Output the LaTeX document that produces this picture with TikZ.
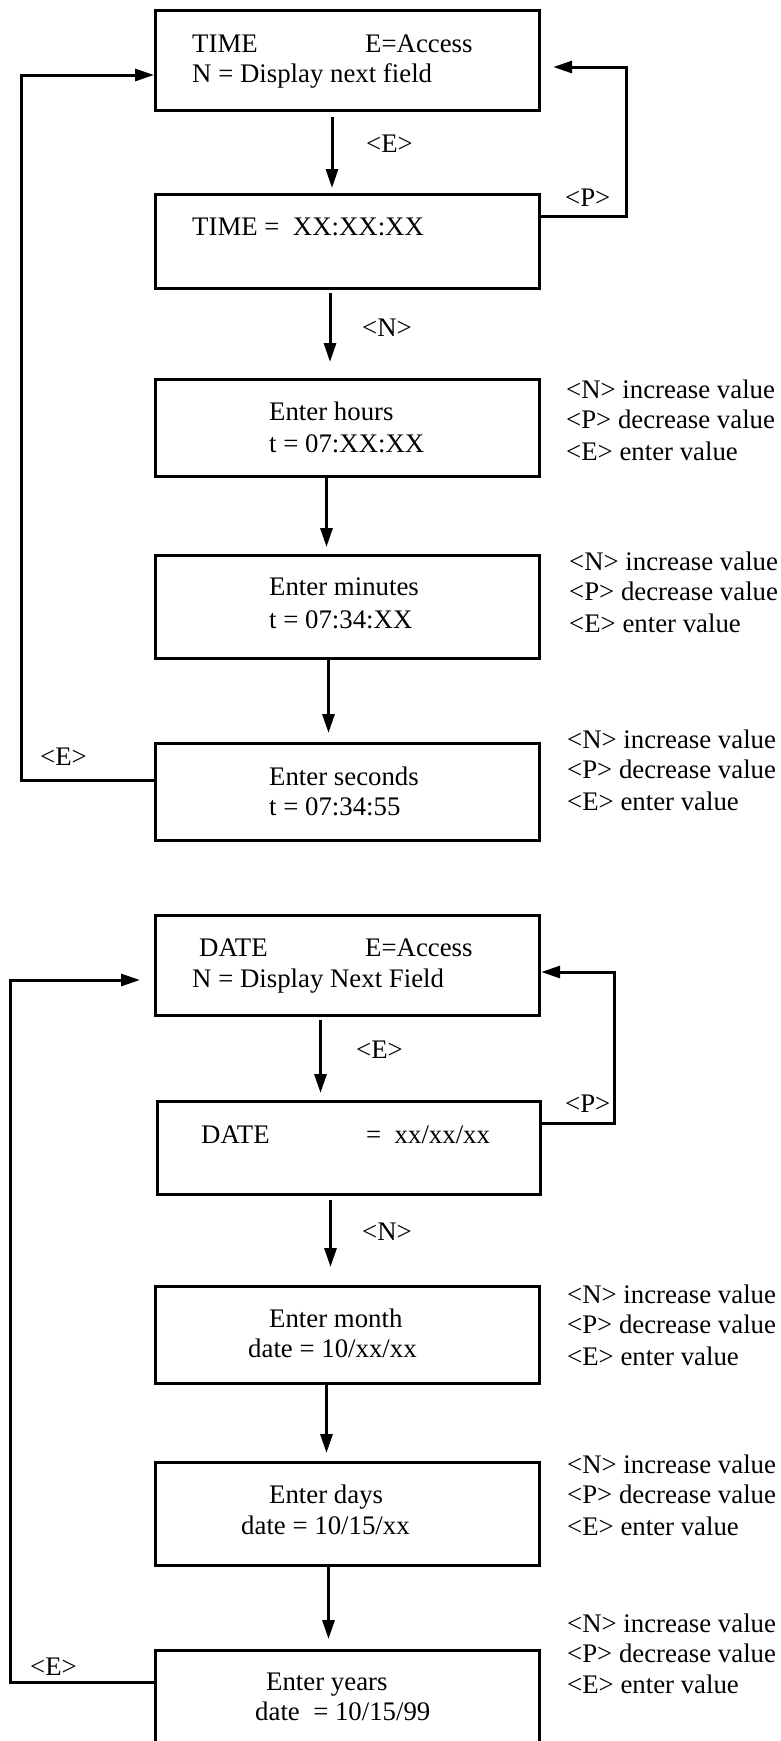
\documentclass[tikz,border=0pt]{standalone}
\usepackage{fontspec}
\setmainfont{Liberation Serif}
\usetikzlibrary{arrows.meta}
\begin{document}
\begin{tikzpicture}[x=1pt,y=-1pt,
  box/.style={draw, line width=3.2pt, inner sep=0pt, anchor=north west, minimum width=384pt},
  conn/.style={line width=3pt, -{Triangle[length=19pt,width=12pt]}},
  txt/.style={anchor=base west, inner sep=0pt, font=\fontsize{26.8pt}{32pt}\selectfont}]
\clip (0,0) rectangle (780,1741);
\fill[white] (0,0) rectangle (780,1741);
% ---------------- TIME ----------------
\node[box, minimum height=100pt] (b1) at (154,9) {};
\node[box, minimum height=94pt]  (b2) at (154,193) {};
\node[box, minimum height=97pt]  (b3) at (154,378) {};
\node[box, minimum height=103pt] (b4) at (154,554) {};
\node[box, minimum height=97pt]  (b5) at (154,742) {};

\node[txt] (t1a) at (192,52) {TIME};
\node[txt] (t1b) at (365,52) {E=Access};
\node[txt] (t1c) at (192,82) {N = Display next field};
\node[txt] (t2)  at (192,235) {TIME = \ XX:XX:XX};
\node[txt] (t3a) at (269,420) {Enter hours};
\node[txt] (t3b) at (269,452) {t = 07:XX:XX};
\node[txt] (t4a) at (269,595) {Enter minutes};
\node[txt] (t4b) at (269,628) {t = 07:34:XX};
\node[txt] (t5a) at (269,785) {Enter seconds};
\node[txt] (t5b) at (269,815) {t = 07:34:55};

\node[txt] (s3a) at (566,398) {<N> increase value};
\node[txt] (s3b) at (566,428) {<P> decrease value};
\node[txt] (s3c) at (566,460) {<E> enter value};
\node[txt] (s4a) at (569,570) {<N> increase value};
\node[txt] (s4b) at (569,600) {<P> decrease value};
\node[txt] (s4c) at (569,632) {<E> enter value};
\node[txt] (s5a) at (567,748) {<N> increase value};
\node[txt] (s5b) at (567,778) {<P> decrease value};
\node[txt] (s5c) at (567,810) {<E> enter value};

\node[txt] (lE1) at (366,152) {<E>};
\node[txt] (lP1) at (565,206) {<P>};
\node[txt] (lN1) at (362,336) {<N>};
\node[txt] (lR1) at (40,765) {<E>};

\coordinate (a1) at (332,0);
\coordinate (a2) at (330,0);
\coordinate (a3) at (326.5,0);
\coordinate (a4) at (328.5,0);
\draw[conn, shorten <=5pt, shorten >=5pt] (b1.south -| a1) -- (b2.north -| a1);
\draw[conn, shorten <=3pt, shorten >=16pt] (b2.south -| a2) -- (b3.north -| a2);
\draw[conn, shorten >=7pt] (b3.south -| a3) -- (b4.north -| a3);
\draw[conn, shorten >=9pt] (b4.south -| a4) -- (b5.north -| a4);

\coordinate (cL1) at (21,780);
\coordinate (cL2) at (21,75);
\draw[conn] (b5.west |- cL1) -- (cL1) -- (cL2) -- (b1.west |- cL2);
\coordinate (cR1) at (626,216);
\coordinate (cR2) at (626,67);
\draw[conn, shorten >=12pt] (b2.east |- cR1) -- (cR1) -- (cR2) -- (b1.east |- cR2);

% ---------------- DATE ----------------
\node[box, minimum height=100pt] (b6) at (154,914) {};
\node[box, minimum height=93pt, minimum width=383pt] (b7) at (156,1100) {};
\node[box, minimum height=97pt]  (b8) at (154,1285) {};
\node[box, minimum height=103pt] (b9) at (154,1461) {};
\node[box, minimum height=110pt] (b10) at (154,1649) {};

\node[txt] (t6a) at (199,956) {DATE};
\node[txt] (t6b) at (365,956) {E=Access};
\node[txt] (t6c) at (192,987) {N = Display Next Field};
\node[txt] (t7a) at (201,1143) {DATE};
\node[txt] (t7b) at (366,1143) {= \ xx/xx/xx};
\node[txt] (t8a) at (269,1327) {Enter month};
\node[txt] (t8b) at (248,1357) {date = 10/xx/xx};
\node[txt] (t9a) at (269,1503) {Enter days};
\node[txt] (t9b) at (241,1534) {date = 10/15/xx};
\node[txt] (t10a) at (266,1690) {Enter years};
\node[txt] (t10b) at (255,1720) {date \ = 10/15/99};

\node[txt] (s8a) at (567,1303) {<N> increase value};
\node[txt] (s8b) at (567,1333) {<P> decrease value};
\node[txt] (s8c) at (567,1365) {<E> enter value};
\node[txt] (s9a) at (567,1473) {<N> increase value};
\node[txt] (s9b) at (567,1503) {<P> decrease value};
\node[txt] (s9c) at (567,1535) {<E> enter value};
\node[txt] (s10a) at (567,1632) {<N> increase value};
\node[txt] (s10b) at (567,1662) {<P> decrease value};
\node[txt] (s10c) at (567,1693) {<E> enter value};

\node[txt] (lE2) at (356,1058) {<E>};
\node[txt] (lP2) at (565,1112) {<P>};
\node[txt] (lN2) at (362,1240) {<N>};
\node[txt] (lR2) at (30,1675) {<E>};

\coordinate (a6) at (320.5,0);
\coordinate (a7) at (330.5,0);
\coordinate (a8) at (326.5,0);
\coordinate (a9) at (328.5,0);
\draw[conn, shorten <=3pt, shorten >=7pt] (b6.south -| a6) -- (b7.north -| a6);
\draw[conn, shorten <=4pt, shorten >=18pt] (b7.south -| a7) -- (b8.north -| a7);
\draw[conn, shorten >=8pt] (b8.south -| a8) -- (b9.north -| a8);
\draw[conn, shorten >=10pt] (b9.south -| a9) -- (b10.north -| a9);

\coordinate (dL1) at (10,1682);
\coordinate (dL2) at (10,980);
\draw[conn, shorten >=14pt] (b10.west |- dL1) -- (dL1) -- (dL2) -- (b6.west |- dL2);
\coordinate (dR1) at (614,1123);
\coordinate (dR2) at (614,972);
\draw[conn] (b7.east |- dR1) -- (dR1) -- (dR2) -- (b6.east |- dR2);
\end{tikzpicture}
\end{document}
